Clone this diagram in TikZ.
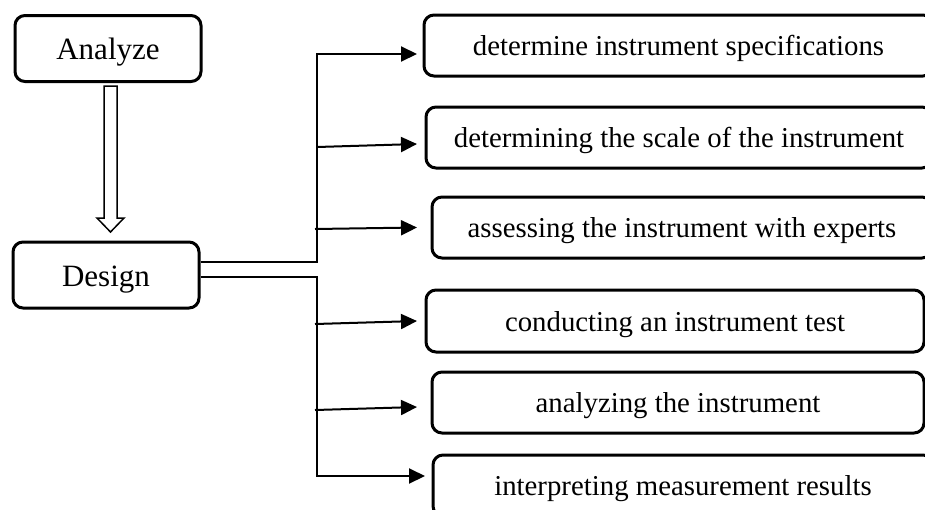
\documentclass[tikz,border=0pt]{standalone}
\usepackage{fontspec}
\setmainfont{Liberation Serif}
\usetikzlibrary{arrows.meta,calc}
\tikzset{
  stage/.style={draw, line width=1.5pt, rounded corners=5pt, minimum width=93pt, minimum height=33pt,
    text height=11pt, text depth=0pt, font=\fontsize{15.5}{18}\selectfont},
  task/.style={draw, line width=1.5pt, rounded corners=5pt, minimum height=30.5pt,
    text height=10pt, text depth=0pt, font=\fontsize{14.4}{17}\selectfont},
  link/.style={line width=1pt, -{Triangle[length=8pt,width=7.5pt]}},
  hollow/.style={line width=0.75pt, line join=miter}
}
\begin{document}
\begin{tikzpicture}[x=0.5pt,y=-0.5pt]
	\useasboundingbox (0,0) rectangle (925,509);
	\clip (0,0) rectangle (925,509);
	% phases
	\node[stage] (ana) at (108,48.5) {Analyze};
	\node[stage] (des) at (106,275) {Design};
	\draw[hollow] ($(ana.south)+(-4,3)$) -- ++(13,0) -- ++(0,132) -- ++(7,0) -- ++(-13.5,14) -- ++(-13.5,-14) -- ++(7,0) -- cycle;
	% design steps
	\node[task, minimum width=254.5pt] (spec) at (678.5,45.5) {determine instrument specifications};
	\node[task, minimum width=253pt] (scale) at (679,137.5) {determining the scale of the instrument};
	\node[task, minimum width=250pt] (expert) at (682,227.5) {assessing the instrument with experts};
	\node[task, minimum width=249pt, minimum height=31pt] (test) at (675,321) {conducting an instrument test};
	\node[task, minimum width=246pt] (anal) at (678,402.5) {analyzing the instrument};
	\node[task, minimum width=250pt] (interp) at (683,485.5) {interpreting measurement results};
	% branches
	\coordinate (up) at (317,262);
	\coordinate (lo) at (317,277);
	\coordinate (b2) at (317,147);
	\coordinate (b3) at (315,229);
	\coordinate (b4) at (315,324);
	\coordinate (b5) at (315,410);
	\draw[link] ([yshift=6.5pt]des.east) -- (up) |- ([xshift=-2.75pt,yshift=-4.25pt]spec.west);
	\draw[link] (b2) -- ([xshift=-3.75pt,yshift=-3.25pt]scale.west);
	\draw[link] (b3) -- ([xshift=-6.75pt]expert.west);
	\draw[link] ([yshift=-1pt]des.east) -- (lo) |- ([xshift=-3.25pt,yshift=4.75pt]interp.west);
	\draw[link] (b4) -- ([xshift=-3.75pt]test.west);
	\draw[link] (b5) -- ([xshift=-6.75pt,yshift=-2.25pt]anal.west);
\end{tikzpicture}
\end{document}
